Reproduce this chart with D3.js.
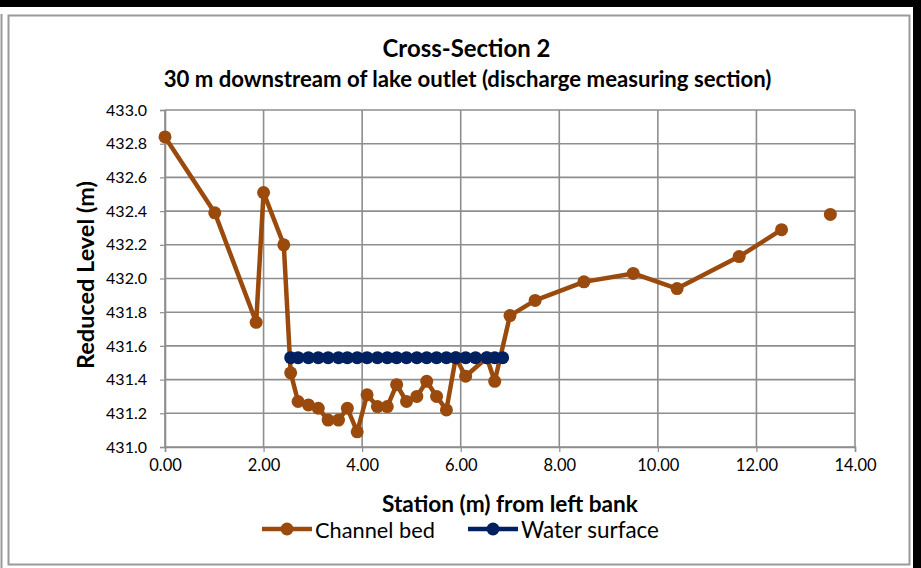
<!DOCTYPE html>
<html>
<head>
<meta charset="utf-8">
<script src="https://cdn.jsdelivr.net/npm/d3@7"></script>
<style>
  html, body { margin: 0; padding: 0; background: #fff; }
  svg { display: block; }
  text { font-family: Lato, "Open Sans", sans-serif; fill: #000; }
</style>
</head>
<body>
<svg id="chart" width="921" height="568"></svg>
<script>
// ---- Data ----
const bedStation = [0.00, 1.01, 1.85, 2.00, 2.41, 2.55, 2.70, 2.91, 3.11, 3.31, 3.52, 3.70, 3.90, 4.10, 4.31, 4.51, 4.70, 4.90, 5.11, 5.31, 5.51, 5.71, 5.90, 6.10, 6.53, 6.69, 7.00, 7.51, 8.50, 9.50, 10.39, 11.65, 12.51, 13.00, 13.50];
const bedLevel   = [432.84, 432.39, 431.74, 432.51, 432.20, 431.44, 431.27, 431.25, 431.23, 431.16, 431.16, 431.23, 431.09, 431.31, 431.24, 431.24, 431.37, 431.27, 431.30, 431.39, 431.30, 431.22, 431.53, 431.42, 431.53, 431.39, 431.78, 431.87, 431.98, 432.03, 431.94, 432.13, 432.29, null, 432.38];
const waterStation = [2.55, 2.70, 2.91, 3.11, 3.31, 3.52, 3.70, 3.90, 4.10, 4.31, 4.51, 4.70, 4.90, 5.11, 5.31, 5.51, 5.71, 5.90, 6.10, 6.30, 6.53, 6.69, 6.85];
const waterLevel   = [431.53, 431.53, 431.53, 431.53, 431.53, 431.53, 431.53, 431.53, 431.53, 431.53, 431.53, 431.53, 431.53, 431.53, 431.53, 431.53, 431.53, 431.53, 431.53, 431.53, 431.53, 431.53, 431.53];
const xTicks = [0, 2, 4, 6, 8, 10, 12, 14];
const yTicks = [431.0, 431.2, 431.4, 431.6, 431.8, 432.0, 432.2, 432.4, 432.6, 432.8, 433.0];
const titleLines = ["Cross-Section 2", "30 m downstream of lake outlet (discharge measuring section)"];
const xTitle = "Station (m) from left bank";
const yTitle = "Reduced Level (m)";
const seriesNames = ["Channel bed", "Water surface"];

(function () {
// ---- Styles ----
const BROWN = "#9A4A0C";
const NAVY = "#002060";
const GRID = "#8E8E8E";

const svg = d3.select("#chart");

// scale a text's font-size so that its rendered width matches a target width
function fit(sel, target) {
  const w = sel.node().getComputedTextLength();
  const fs = parseFloat(sel.attr("font-size"));
  if (w > 0) sel.attr("font-size", (fs * target / w).toFixed(2));
  return sel;
}

// Outer frame decorations
svg.append("rect").attr("x", 0).attr("y", 0).attr("width", 921).attr("height", 568).attr("fill", "#fff");
svg.append("rect").attr("x", 0).attr("y", 0).attr("width", 921).attr("height", 7).attr("fill", "#000");
svg.append("rect").attr("x", 913).attr("y", 0).attr("width", 8).attr("height", 568).attr("fill", "#000");
svg.append("line").attr("x1", 1.5).attr("x2", 1.5).attr("y1", 14).attr("y2", 568).attr("stroke", "#9a9a9a").attr("stroke-width", 2);
svg.append("rect").attr("x", 8.5).attr("y", 15.5).attr("width", 901).attr("height", 549)
  .attr("fill", "none").attr("stroke", "#9a9a9a").attr("stroke-width", 2);

const pL = 165, pR = 855, pT = 110, pB = 447;
const x = d3.scaleLinear().domain([0, 14]).range([pL, pR]);
const y = d3.scaleLinear().domain([431, 433]).range([pB, pT]);

// Gridlines
const g = svg.append("g");
g.selectAll(".hg").data(yTicks).join("line")
  .attr("x1", pL).attr("x2", pR)
  .attr("y1", d => y(d)).attr("y2", d => y(d))
  .attr("stroke", GRID).attr("stroke-width", 1.6);
g.selectAll(".vg").data(xTicks).join("line")
  .attr("y1", pT).attr("y2", pB)
  .attr("x1", d => x(d)).attr("x2", d => x(d))
  .attr("stroke", GRID).attr("stroke-width", 1.6);

// Axes
const yAxis = svg.append("g").attr("transform", `translate(${pL},0)`)
  .call(d3.axisLeft(y).tickValues(yTicks).tickFormat(d3.format(".1f")).tickSize(5).tickPadding(13));
const xAxis = svg.append("g").attr("transform", `translate(0,${pB})`)
  .call(d3.axisBottom(x).tickValues(xTicks).tickFormat(d3.format(".2f")).tickSize(5).tickPadding(7));
[yAxis, xAxis].forEach(a => {
  a.select(".domain").attr("stroke", GRID).attr("stroke-width", 1.6);
  a.selectAll(".tick line").attr("stroke", GRID).attr("stroke-width", 1.2);
  a.selectAll(".tick text").attr("font-family", "Lato, sans-serif").attr("fill", "#000");
});
yAxis.selectAll(".tick text").attr("font-size", 16);
xAxis.selectAll(".tick text").attr("font-size", 16.5);

// Series
const bed = bedStation.map((s, i) => ({ s, v: bedLevel[i] }));
const water = waterStation.map((s, i) => ({ s, v: waterLevel[i] }));
const line = d3.line().defined(d => d.v != null).x(d => x(d.s)).y(d => y(d.v));

svg.append("path").datum(bed).attr("d", line).attr("fill", "none")
  .attr("stroke", BROWN).attr("stroke-width", 4.5).attr("stroke-linejoin", "round");
svg.append("g").selectAll("circle").data(bed.filter(d => d.v != null)).join("circle")
  .attr("cx", d => x(d.s)).attr("cy", d => y(d.v)).attr("r", 6.5).attr("fill", BROWN);

svg.append("path").datum(water).attr("d", line).attr("fill", "none")
  .attr("stroke", NAVY).attr("stroke-width", 4.5);
svg.append("g").selectAll("circle").data(water).join("circle")
  .attr("cx", d => x(d.s)).attr("cy", d => y(d.v)).attr("r", 6.5).attr("fill", NAVY);

// Titles
fit(svg.append("text").attr("x", 466.5).attr("y", 57).attr("text-anchor", "middle")
  .attr("font-size", 20).attr("font-weight", "bold").text(titleLines[0]), 168);
fit(svg.append("text").attr("x", 467.5).attr("y", 87).attr("text-anchor", "middle")
  .attr("font-size", 20).attr("font-weight", "bold").text(titleLines[1]), 608);

fit(svg.append("text").attr("x", 510).attr("y", 512).attr("text-anchor", "middle")
  .attr("font-size", 20).attr("font-weight", "bold").text(xTitle), 256);

fit(svg.append("text").attr("transform", "translate(94,275) rotate(-90)").attr("text-anchor", "middle")
  .attr("font-size", 20).attr("font-weight", "bold").text(yTitle), 188);

// Legend
const legend = [
  { name: seriesNames[0], color: BROWN, x0: 262, w: 120 },
  { name: seriesNames[1], color: NAVY, x0: 468, w: 138 }
];
const lg = svg.append("g");
legend.forEach(l => {
  lg.append("line").attr("x1", l.x0).attr("x2", l.x0 + 50).attr("y1", 529).attr("y2", 529)
    .attr("stroke", l.color).attr("stroke-width", 4.5);
  lg.append("circle").attr("cx", l.x0 + 25).attr("cy", 529).attr("r", 6.5).attr("fill", l.color);
  fit(lg.append("text").attr("x", l.x0 + 53).attr("y", 538).attr("font-size", 20).text(l.name), l.w);
});
})();
</script>
</body>
</html>
